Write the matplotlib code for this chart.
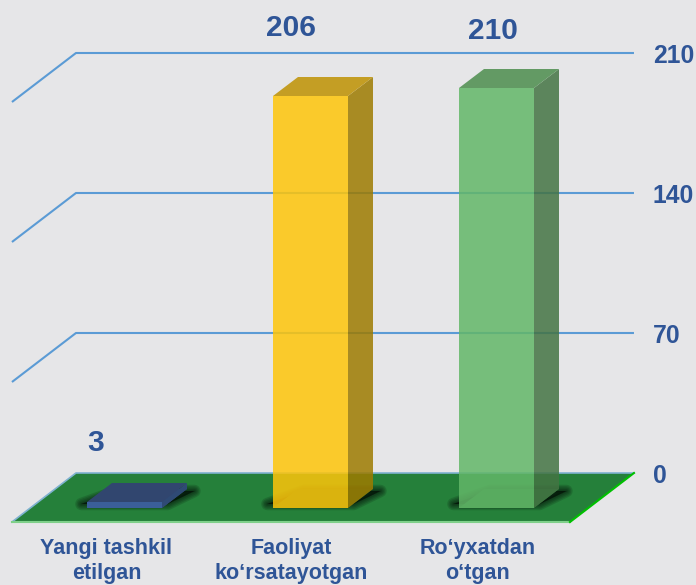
import matplotlib
matplotlib.use('Agg')
import matplotlib.pyplot as plt
from matplotlib.patches import Polygon

# data
categories = ['Yangi tashkil\netilgan', 'Faoliyat\nko\u2018rsatayotgan', 'Ro\u2018yxatdan\no\u2018tgan']
values = [3, 206, 210]
ticks = [0, 70, 140, 210]

bg = '#e6e6e8'
text_col = '#2f5597'
grid_col = '#5b9bd5'

# colours per bar: front, side, top, bottom
front_cols = ['#3b5f9a', '#fec50a', '#63b768']
side_cols = ['#2f4a75', '#9e7b00', '#447443']
top_cols = ['#31466f', '#c49e24', '#639a64']
bottom_cols = ['#2f4a75', '#14552a', '#1f6a30']
bar_alpha = [1, 0.85, 0.85]

# label nudges in pixels
value_offs = [(-29, 59), (-19, 68), (-4, 57)]
cat_offs = [-18, -19, -19]

# 1 category = 186 px, 1 value unit = 2 px
w = 75 / 186
dx, dy = 25 / 186, 9.5           # bar depth
floor_dx, floor_dy = 64 / 186, 24.5
fl, fr = -0.605, 2.395           # floor front corners
fy = -7

fig = plt.figure(figsize=(6.96, 5.85), dpi=100, facecolor=bg)
ax = fig.add_axes([0, 0, 1, 1])
ax.set_xlim(-124.5 / 186, (696 - 124.5) / 186)
ax.set_ylim(-38.5, 254)
ax.axis('off')
plt.rcParams['font.family'] = ['Liberation Sans', 'DejaVu Sans']

# walls / gridlines
for t in ticks[1:]:
    y = fy + floor_dy + t
    ax.plot([fl, fl + floor_dx, fr + floor_dx], [y - floor_dy, y, y],
            color=grid_col, lw=1.5, solid_capstyle='butt', zorder=1)

# floor
ax.add_patch(Polygon([(fl, fy), (fr, fy), (fr + floor_dx, fy + floor_dy), (fl + floor_dx, fy + floor_dy)],
                     fc='#25803a', ec='none', zorder=2))
ax.plot([fl, fl + floor_dx, fr + floor_dx], [fy, fy + floor_dy, fy + floor_dy], color='#7fb2d0', lw=1.2, zorder=3)
ax.plot([fl, fr], [fy, fy], color='#7fd08a', lw=1.5, zorder=3)
ax.plot([fr, fr + floor_dx], [fy, fy + floor_dy], color='#00c000', lw=1.5, zorder=3)

for i, v in enumerate(values):
    x0, x1 = i - w / 2, i + w / 2

    # blurred shadow on the floor
    shadow = [(x0 - 0.03, 2), (x1 + 0.03, 2), (x1 + dx + 0.04, dy - 1), (x0 + dx + 0.03, dy - 1)]
    for lw in [9, 7, 5, 3, 1]:
        ax.add_patch(Polygon(shadow, fc='black', ec='black', lw=lw, alpha=0.14,
                             joinstyle='round', zorder=4))

    a = bar_alpha[i]
    ax.add_patch(Polygon([(x0, 0), (x1, 0), (x1 + dx, dy), (x0 + dx, dy)],
                         fc=bottom_cols[i], ec='none', zorder=5))
    ax.add_patch(Polygon([(x1, 0), (x1 + dx, dy), (x1 + dx, v + dy), (x1, v)],
                         fc=side_cols[i], ec='none', alpha=a, zorder=6))
    ax.add_patch(Polygon([(x0, 0), (x1, 0), (x1, v), (x0, v)],
                         fc=front_cols[i], ec='none', alpha=a, zorder=7))
    ax.add_patch(Polygon([(x0, v), (x1, v), (x1 + dx, v + dy), (x0 + dx, v + dy)],
                         fc=top_cols[i], ec='none', zorder=8))

    ax.annotate(str(v), (i, v), xytext=value_offs[i], textcoords='offset pixels',
                ha='center', va='center', fontsize=21.5, fontweight='bold', color=text_col, zorder=9)
    ax.annotate(categories[i], (i, 0), xytext=(cat_offs[i], -53), textcoords='offset pixels',
                ha='center', va='center', fontsize=15.5, fontweight='bold', color=text_col,
                linespacing=1.2, zorder=9)

# value axis labels
for t in ticks:
    ax.annotate(str(t), (fr + floor_dx, fy + floor_dy + t), xytext=(19, -3), textcoords='offset pixels',
                ha='left', va='center', fontsize=17.8, fontweight='bold', color=text_col, zorder=9)

fig.savefig('out.png', dpi=100, facecolor=bg)
